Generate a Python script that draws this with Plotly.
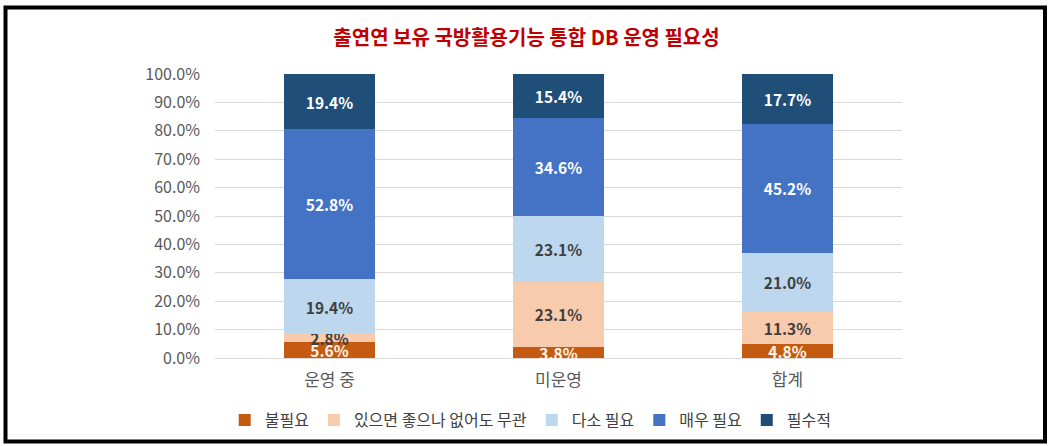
import plotly.graph_objects as go

categories = ["운영 중", "미운영", "합계"]
series_names = ["불필요", "있으면 좋으나 없어도 무관", "다소 필요", "매우 필요", "필수적"]
v_unnecessary = [5.6, 3.8, 4.8]
v_nice = [2.8, 23.1, 11.3]
v_somewhat = [19.4, 23.1, 21.0]
v_very = [52.8, 34.6, 45.2]
v_essential = [19.4, 15.4, 17.7]
y_ticks = [0, 10, 20, 30, 40, 50, 60, 70, 80, 90, 100]
y_tick_labels = [f"{t:.1f}%" for t in y_ticks]

values = [v_unnecessary, v_nice, v_somewhat, v_very, v_essential]
colors = ["#C55A11", "#F8CBAD", "#BDD7EE", "#4472C4", "#1F4E79"]
text_colors = ["#FFF5E6", "#404040", "#404040", "#FFFFFF", "#FFFFFF"]

FONT = "Noto Sans CJK KR"

fig = go.Figure()
for name, vals, c, tc in zip(series_names, values, colors, text_colors):
    fig.add_trace(go.Bar(
        x=categories, y=vals, name=name,
        marker=dict(color=c, line=dict(width=0)),
        text=[f"{v:.1f}%" for v in vals],
        textposition="inside", insidetextanchor="middle",
        constraintext="none", textangle=0,
        textfont=dict(family=FONT, size=15.5, color=tc, weight="bold"),
        cliponaxis=False,
    ))

L, R, T, B = 215, 902, 74, 358
W, H = 1053, 446
pw, ph = R - L, B - T

def px(x):
    return (x - L) / pw

def py(y):
    return (B - y) / ph

fig.update_layout(
    width=W, height=H,
    barmode="stack", bargap=0.6,
    margin=dict(l=L, r=W - R, t=T, b=H - B, pad=0),
    paper_bgcolor="white", plot_bgcolor="white",
    font=dict(family=FONT, color="#595959"),
    title=dict(text="<b>출연연 보유 국방활용기능 통합 DB 운영 필요성</b>",
               x=0.500, xref="container", xanchor="center",
               y=1 - 38 / H, yref="container", yanchor="middle",
               font=dict(family=FONT, size=20, color="#C00000")),
    showlegend=True,
    legend=dict(orientation="h", xref="container", yref="container",
                x=0.504, xanchor="center", y=1 - 420 / H, yanchor="middle",
                font=dict(family=FONT, size=16, color="#404040"),
                traceorder="normal", itemwidth=30, tracegroupgap=0),
    xaxis=dict(showgrid=False, showline=False, ticks="", ticklabelstandoff=10,
               tickfont=dict(family=FONT, size=17, color="#595959")),
    yaxis=dict(range=[0, 100.001], tickvals=y_ticks, ticktext=y_tick_labels,
               showgrid=True, gridcolor="#D9D9D9", gridwidth=1,
               zeroline=True, zerolinecolor="#D9D9D9", zerolinewidth=1,
               showline=False, ticks="", ticklabelstandoff=14,
               tickfont=dict(family=FONT, size=16, color="#595959")),
)

fig.add_shape(type="rect", xref="paper", yref="paper",
              x0=px(5.5), x1=px(1045), y0=py(441.5), y1=py(7.5),
              line=dict(color="black", width=4), fillcolor="rgba(0,0,0,0)",
              layer="above")

fig.write_html("out.html")
